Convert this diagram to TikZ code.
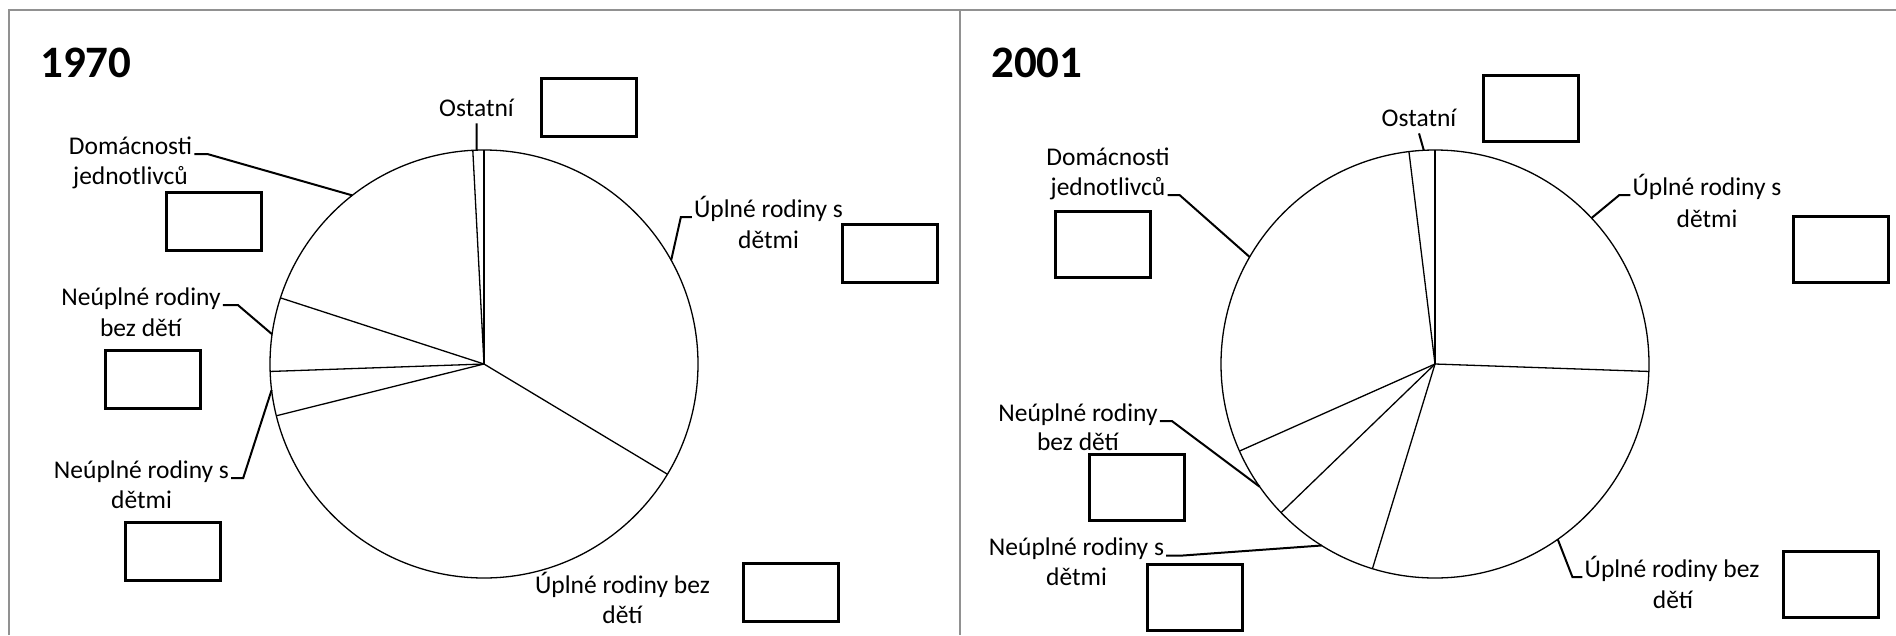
\documentclass[tikz,border=0pt]{standalone}
\usepackage{fontspec}
\setmainfont{Carlito}
\usepackage{tikz}
\definecolor{framegray}{RGB}{145,145,145}

\begin{document}
\begin{tikzpicture}[x=1pt,y=-1pt,
        lbl/.style={inner sep=2pt,anchor=base,font=\fontsize{25.5}{30}\selectfont},
        yearlbl/.style={inner sep=0pt,anchor=base west,font=\fontsize{45}{50}\selectfont\bfseries},
        pie/.style={circle,draw,line width=1.3pt,inner sep=0pt,outer sep=0pt,minimum size=428pt},
        slice/.style={line width=1.3pt},
        leader/.style={line width=2pt},
        ansbox/.style={draw,line width=3pt,inner sep=0pt,minimum width=95pt,minimum height=#1},
        ansbox/.default=58pt]
        \useasboundingbox (0,0) rectangle (1896,635);
        \draw[framegray,line width=2.5pt] (9,635) -- (9,10) -- (1896,10);
        \draw[framegray,line width=2.5pt] (960,10) -- (960,635);

        % 1970
        \node[yearlbl] (y70) at (40,77) {1970};
        \node[pie] (pie70) at (484,364) {};
        \foreach \a in {90,93.7,162.7,182.2,194.5,329}
            \draw[slice] (pie70.center) -- (pie70.\a);

        \node[lbl] (ost70)  at (476.5,116) {Ostatní};
        \node[lbl] (dom70)  at (130.5,154) {Domácnosti};
        \node[lbl] (dom70b) at (130.5,184) {jednotlivců};
        \node[lbl] (us70)   at (768.5,217) {Úplné rodiny s};
        \node[lbl] (us70b)  at (768.5,248) {dětmi};
        \node[lbl] (nb70)   at (141,305)   {Neúplné rodiny};
        \node[lbl] (nb70b)  at (141,336.5) {bez dětí};
        \node[lbl] (ns70)   at (141.5,478) {Neúplné rodiny s};
        \node[lbl] (ns70b)  at (141.5,508) {dětmi};
        \node[lbl] (ub70)   at (622.5,593) {Úplné rodiny bez};
        \node[lbl] (ub70b)  at (622.5,623) {dětí};

        \draw[leader] (ost70.south) ++(0,5) -- (pie70.92);
        \draw[leader] (dom70.base east) -- ++(13,0) -- (pie70.128.8);
        \draw[leader] (us70.base west) -- ++(-11,0) -- (pie70.29.6);
        \draw[leader] (nb70.base east) -- ++(15,0) -- (pie70.172.4);
        \draw[leader] (ns70.base east) -- ++(12,0) -- (pie70.187.9);

        \node[ansbox] (box70ost) at (588.5,107) {};
        \node[ansbox] (box70dom) at (214,221)   {};
        \node[ansbox] (box70us)  at (889.5,253.5) {};
        \node[ansbox] (box70nb)  at (153,379)   {};
        \node[ansbox] (box70ns)  at (173,551.5) {};
        \node[ansbox] (box70ub)  at (790.5,592) {};

        % 2001
        \node[yearlbl] (y01) at (991,77) {2001};
        \node[pie] (pie01) at (1435,364) {};
        \foreach \a in {90,97.3,204.6,224.6,253.1,358.1}
            \draw[slice] (pie01.center) -- (pie01.\a);

        \node[lbl] (ost01)  at (1419,126)    {Ostatní};
        \node[lbl] (dom01)  at (1108,165)    {Domácnosti};
        \node[lbl] (dom01b) at (1108,195)    {jednotlivců};
        \node[lbl] (us01)   at (1707,195)    {Úplné rodiny s};
        \node[lbl] (us01b)  at (1707,227)    {dětmi};
        \node[lbl] (nb01)   at (1078,421)    {Neúplné rodiny};
        \node[lbl] (nb01b)  at (1078,450)    {bez dětí};
        \node[lbl] (ns01)   at (1076.5,555.7) {Neúplné rodiny s};
        \node[lbl] (ns01b)  at (1076.5,585.7) {dětmi};
        \node[lbl] (ub01)   at (1672,577)    {Úplné rodiny bez};
        \node[lbl] (ub01b)  at (1673,608)    {dětí};

        \draw[leader] (ost01.south) ++(0,5) -- (pie01.93.5);
        \draw[leader] (dom01b.base east) -- ++(12,0) -- (pie01.150.7);
        \draw[leader] (us01.base west) -- ++(-11,0) -- (pie01.43.7);
        \draw[leader] (nb01.base east) -- ++(12,0) -- (pie01.215);
        \draw[leader] (ns01.base east) -- ++(14,0) -- (pie01.238.3);
        \draw[leader] (ub01.base west) -- ++(-10,0) -- (pie01.305.5);

        \node[ansbox=66pt] (box01ost) at (1531,108)   {};
        \node[ansbox=66pt] (box01dom) at (1103,244.5) {};
        \node[ansbox=66pt] (box01us)  at (1841,249)   {};
        \node[ansbox=66pt] (box01nb)  at (1137,487.5) {};
        \node[ansbox=66pt] (box01ns)  at (1194.5,597) {};
        \node[ansbox=66pt] (box01ub)  at (1830.5,584.5) {};
\end{tikzpicture}
\end{document}
